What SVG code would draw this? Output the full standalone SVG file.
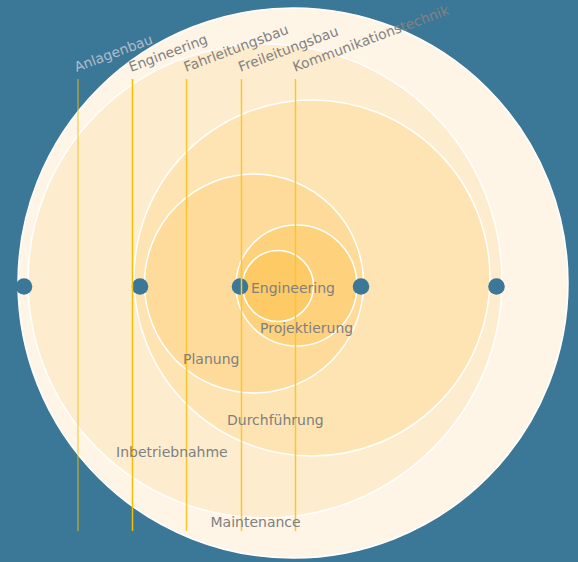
<svg xmlns="http://www.w3.org/2000/svg" width="578" height="562" viewBox="0 0 578 562">
  <style>
    .ring { stroke: #ffffff; stroke-width: 1.5; }
    .lbl { font-family: "DejaVu Sans", "Liberation Sans", sans-serif; font-size: 14px; fill: #808080; }
    .top { font-family: "DejaVu Sans", "Liberation Sans", sans-serif; font-size: 13.8px; fill: #828282; }
    .dot { fill: #3b7797; }
    .vl { stroke-width: 1.5; fill: none; }
  </style>
  <rect x="0" y="0" width="578" height="562" fill="#3b7797"/>
  <g id="maintenance">
    <circle class="ring" cx="293" cy="283" r="275" fill="#fef5e6"/>
  </g>
  <g id="inbetriebnahme">
    <circle class="ring" cx="265" cy="281" r="237" fill="#feecce"/>
  </g>
  <g id="durchfuehrung">
    <circle class="ring" cx="312" cy="278" r="178" fill="#fee4b3"/>
  </g>
  <g id="planung">
    <circle class="ring" cx="254" cy="283.5" r="109.5" fill="#fedb9a"/>
  </g>
  <g id="projektierung">
    <circle class="ring" cx="296.5" cy="285.5" r="60.5" fill="#fed27c"/>
  </g>
  <g id="engineering-core">
    <circle class="ring" cx="278" cy="286" r="35.5" fill="#fdca66"/>
  </g>
  <g id="dots">
    <circle class="dot" cx="24" cy="286.5" r="8.3"/>
    <circle class="dot" cx="140" cy="286.5" r="8.3"/>
    <circle class="dot" cx="240" cy="286.5" r="8.3"/>
    <circle class="dot" cx="361" cy="286.5" r="8.3"/>
    <circle class="dot" cx="496.5" cy="286.5" r="8.3"/>
  </g>
  <g id="connectors">
    <line class="vl" x1="78" y1="79" x2="78" y2="531" stroke="#f2bf10" stroke-opacity="0.6"/>
    <line class="vl" x1="132.5" y1="79" x2="132.5" y2="531" stroke="#f4bf08"/>
    <line class="vl" x1="186.5" y1="79" x2="186.5" y2="531" stroke="#fcc52e"/>
    <line class="vl" x1="241.5" y1="79" x2="241.5" y2="531" stroke="#fcc52e"/>
    <line class="vl" x1="295.5" y1="79" x2="295.5" y2="531" stroke="#fcc52e"/>
  </g>
  <g id="top-labels">
    <text class="top" transform="translate(76.5,72) rotate(-20.5)" style="fill:#aebdc9">Anlagenbau</text>
    <text class="top" transform="translate(131,72) rotate(-20.5)">Engineering</text>
    <text class="top" transform="translate(186,72) rotate(-20.5)">Fahrleitungsbau</text>
    <text class="top" transform="translate(240.5,72) rotate(-20.5)">Freileitungsbau</text>
    <text class="top" transform="translate(295,72) rotate(-20.5)">Kommunikationstechnik</text>
  </g>
  <g id="ring-labels">
    <text class="lbl" x="251" y="292.5">Engineering</text>
    <text class="lbl" x="260" y="332.5">Projektierung</text>
    <text class="lbl" x="183" y="364">Planung</text>
    <text class="lbl" x="227" y="425">Durchführung</text>
    <text class="lbl" x="116" y="457">Inbetriebnahme</text>
    <text class="lbl" x="210.5" y="527">Maintenance</text>
  </g>
</svg>
